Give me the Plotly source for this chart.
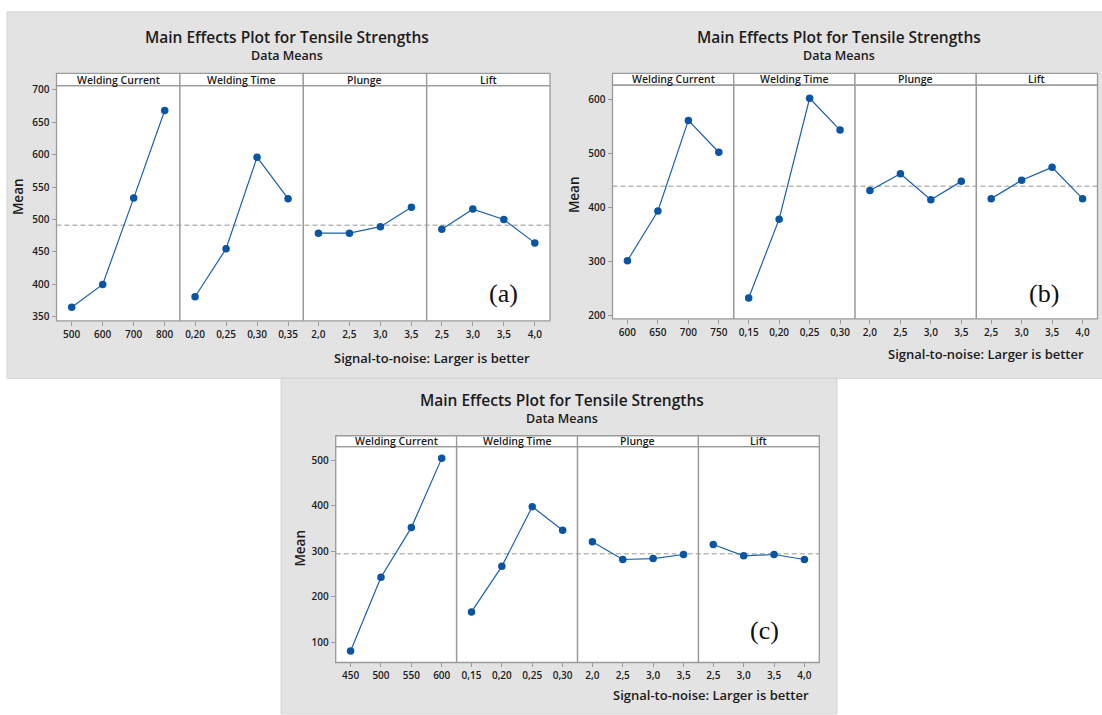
import numpy as np
import plotly.graph_objects as go

W, H = 1102, 715

factors = ["Welding Current", "Welding Time", "Plunge", "Lift"]

# ---- (a) ----
a_current_levels = ["500", "600", "700", "800"]
a_time_levels = ["0,20", "0,25", "0,30", "0,35"]
a_plunge_levels = ["2,0", "2,5", "3,0", "3,5"]
a_lift_levels = ["2,5", "3,0", "3,5", "4,0"]
a_current_means = [365, 400, 533, 668]
a_time_means = [381, 455, 596, 532]
a_plunge_means = [479, 479, 489, 519]
a_lift_means = [485, 516, 500, 464]
a_yticks = [350, 400, 450, 500, 550, 600, 650, 700]

# ---- (b) ----
b_current_levels = ["600", "650", "700", "750"]
b_time_levels = ["0,15", "0,20", "0,25", "0,30"]
b_plunge_levels = ["2,0", "2,5", "3,0", "3,5"]
b_lift_levels = ["2,5", "3,0", "3,5", "4,0"]
b_current_means = [301, 393, 561, 502]
b_time_means = [232, 378, 602, 543]
b_plunge_means = [431, 462, 414, 448]
b_lift_means = [416, 450, 474, 416]
b_yticks = [200, 300, 400, 500, 600]

# ---- (c) ----
c_current_levels = ["450", "500", "550", "600"]
c_time_levels = ["0,15", "0,20", "0,25", "0,30"]
c_plunge_levels = ["2,0", "2,5", "3,0", "3,5"]
c_lift_levels = ["2,5", "3,0", "3,5", "4,0"]
c_current_means = [81, 243, 352, 504]
c_time_means = [167, 267, 398, 346]
c_plunge_means = [321, 282, 284, 293]
c_lift_means = [315, 290, 293, 282]
c_yticks = [100, 200, 300, 400, 500]

tags = ["(a)", "(b)", "(c)"]
title_text = "Main Effects Plot for Tensile Strengths"
subtitle_text = "Data Means"
xtitle_text = "Signal-to-noise: Larger is better"


def px(x):
    return x / W


def py(y):
    return 1 - y / H


# page geometry (pixels) for each chart block
charts = [
    dict(levels=[a_current_levels, a_time_levels, a_plunge_levels, a_lift_levels],
         means=[a_current_means, a_time_means, a_plunge_means, a_lift_means],
         yticks=a_yticks, yrange=[343.9, 706.1],
         L=56.5, R=550, st=70, sb=82.5, bot=320,
         title=(287, 33), sub=(287, 52), ylab=(18, 195), xlab=(532, 357), tag=(503, 292)),
    dict(levels=[b_current_levels, b_time_levels, b_plunge_levels, b_lift_levels],
         means=[b_current_means, b_time_means, b_plunge_means, b_lift_means],
         yticks=b_yticks, yrange=[193.2, 626.2],
         L=612.5, R=1097.5, st=70, sb=82, bot=318,
         title=(839, 33), sub=(839, 52), ylab=(574, 193), xlab=(1086, 353), tag=(1044, 292)),
    dict(levels=[c_current_levels, c_time_levels, c_plunge_levels, c_lift_levels],
         means=[c_current_means, c_time_means, c_plunge_means, c_lift_means],
         yticks=c_yticks, yrange=[55.9, 529.8],
         L=335.7, R=819.3, st=436, sb=447, bot=665,
         title=(562, 399.5), sub=(562, 419), ylab=(300, 550), xlab=(811, 698), tag=(764, 633)),
]

FONT = "Open Sans"
TXT = "#1b1b1b"
EDGE = "#9a9a9a"
MARK = "#0a55a3"
LINE = "#1c5fb0"

fig = go.Figure()
shapes = []
annotations = []
layout = dict(width=W, height=H, margin=dict(l=0, r=0, t=0, b=0),
              paper_bgcolor="white", plot_bgcolor="rgba(0,0,0,0)",
              showlegend=False, font=dict(family=FONT, color=TXT))

# grey backgrounds of the three blocks
shapes.append(dict(type="rect", xref="paper", yref="paper", layer="below",
                   x0=px(7), x1=px(W + 2), y0=py(378), y1=py(8),
                   fillcolor="#e3e3e3", line=dict(color="#d3d3d3", width=1)))
shapes.append(dict(type="rect", xref="paper", yref="paper", layer="below",
                   x0=px(281), x1=px(837), y0=py(H + 2), y1=py(378),
                   fillcolor="#e3e3e3", line=dict(color="#d3d3d3", width=1)))

for ci, ch in enumerate(charts):
    L, R, st, sb, bot = ch["L"], ch["R"], ch["st"], ch["sb"], ch["bot"]
    w = (R - L) / 4
    yname = "y" if ci == 0 else f"y{ci + 1}"
    ykey = "yaxis" if ci == 0 else f"yaxis{ci + 1}"
    first_x = "x" if ci == 0 else f"x{ci * 4 + 1}"

    # white panel area
    shapes.append(dict(type="rect", xref="paper", yref="paper", layer="below",
                       x0=px(L), x1=px(R), y0=py(bot), y1=py(st),
                       fillcolor="white", line=dict(width=0)))

    layout[ykey] = dict(domain=[py(bot), py(sb)], anchor=first_x,
                        range=ch["yrange"], tickvals=ch["yticks"],
                        ticks="outside", ticklen=4, tickcolor=EDGE, tickwidth=1,
                        showgrid=False, zeroline=False, showline=False,
                        tickfont=dict(size=10, family=FONT, color=TXT, weight=600),
                        fixedrange=True)

    allvals = []
    for pj in range(4):
        n = ci * 4 + pj + 1
        xname = "x" if n == 1 else f"x{n}"
        xkey = "xaxis" if n == 1 else f"xaxis{n}"
        levels = ch["levels"][pj]
        means = ch["means"][pj]
        allvals.extend(means)
        x0p, x1p = L + pj * w, L + (pj + 1) * w
        layout[xkey] = dict(domain=[px(x0p), px(x1p)], anchor=yname,
                            type="category", categoryorder="array", categoryarray=levels,
                            range=[-0.49, 3.49], ticks="outside", ticklen=4,
                            tickcolor=EDGE, tickwidth=1,
                            showgrid=False, zeroline=False, showline=False,
                            tickfont=dict(size=10, family=FONT, color=TXT, weight=600),
                            fixedrange=True)
        fig.add_trace(go.Scatter(x=levels, y=means, xaxis=xname, yaxis=yname,
                                 mode="lines+markers",
                                 line=dict(color=LINE, width=1.2),
                                 marker=dict(color=MARK, size=7.5),
                                 hoverinfo="x+y"))
        # strip with factor name
        shapes.append(dict(type="rect", xref="paper", yref="paper", layer="above",
                           x0=px(x0p), x1=px(x1p), y0=py(sb), y1=py(st),
                           fillcolor="white", line=dict(color=EDGE, width=1.3)))
        annotations.append(dict(text=factors[pj], xref="paper", yref="paper",
                                x=px((x0p + x1p) / 2), y=py((st + sb) / 2),
                                xanchor="center", yanchor="middle", showarrow=False,
                                font=dict(size=10.5, family=FONT, color=TXT, weight=600)))
        if pj > 0:
            shapes.append(dict(type="line", xref="paper", yref="paper", layer="above",
                               x0=px(x0p), x1=px(x0p), y0=py(bot), y1=py(sb),
                               line=dict(color=EDGE, width=1.5)))

    # overall mean reference line
    grand = float(np.mean(allvals))
    shapes.append(dict(type="line", xref="paper", yref=yname, layer="below",
                       x0=px(L), x1=px(R), y0=grand, y1=grand,
                       line=dict(color="#b8b8b8", width=1.5, dash="5px,3px")))
    # panel frame
    shapes.append(dict(type="rect", xref="paper", yref="paper", layer="above",
                       x0=px(L), x1=px(R), y0=py(bot), y1=py(sb),
                       line=dict(color=EDGE, width=1.3)))

    annotations += [
        dict(text=title_text, xref="paper", yref="paper",
             x=px(ch["title"][0]), y=py(ch["title"][1]), xanchor="center", yanchor="middle",
             showarrow=False, font=dict(size=15.5, family=FONT, color=TXT, weight=600)),
        dict(text=subtitle_text, xref="paper", yref="paper",
             x=px(ch["sub"][0]), y=py(ch["sub"][1]), xanchor="center", yanchor="middle",
             showarrow=False, font=dict(size=12.5, family=FONT, color=TXT, weight=600)),
        dict(text="Mean", xref="paper", yref="paper", textangle=-90,
             x=px(ch["ylab"][0]), y=py(ch["ylab"][1]), xanchor="center", yanchor="middle",
             showarrow=False, font=dict(size=13.5, family=FONT, color=TXT, weight=600)),
        dict(text=xtitle_text, xref="paper", yref="paper",
             x=px(ch["xlab"][0]), y=py(ch["xlab"][1]), xanchor="right", yanchor="middle",
             showarrow=False, font=dict(size=13, family=FONT, color=TXT, weight=600)),
        dict(text=tags[ci], xref="paper", yref="paper",
             x=px(ch["tag"][0]), y=py(ch["tag"][1]), xanchor="center", yanchor="middle",
             showarrow=False, font=dict(size=26, family="Liberation Serif", color="#111111")),
    ]

layout["shapes"] = shapes
layout["annotations"] = annotations
fig.update_layout(**layout)
fig.write_html("out.html")
